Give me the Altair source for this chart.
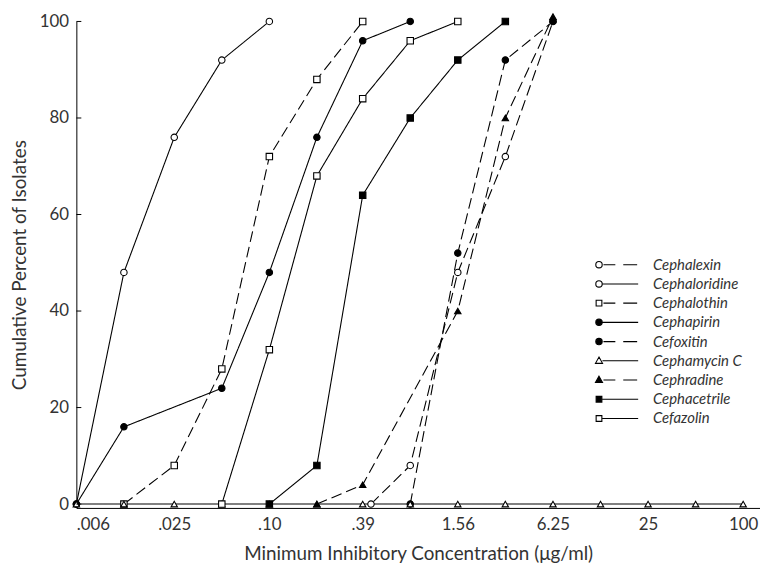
import altair as alt
import pandas as pd

# ---------------- data ----------------
series_names = ["Cephalexin", "Cephaloridine", "Cephalothin", "Cephapirin", "Cefoxitin",
                "Cephamycin C", "Cephradine", "Cephacetrile", "Cefazolin"]

cephalexin_x = [0.44, 0.78, 1.56, 3.12, 6.25]
cephalexin_y = [0, 8, 48, 72, 100]
cephaloridine_x = [0.006, 0.012, 0.025, 0.05, 0.10]
cephaloridine_y = [0, 48, 76, 92, 100]
cephalothin_x = [0.012, 0.025, 0.05, 0.10, 0.2, 0.39]
cephalothin_y = [0, 8, 28, 72, 88, 100]
cephapirin_x = [0.006, 0.012, 0.05, 0.10, 0.2, 0.39, 0.78]
cephapirin_y = [0, 16, 24, 48, 76, 96, 100]
cefoxitin_x = [0.78, 1.56, 3.12, 6.25]
cefoxitin_y = [0, 52, 92, 100]
cephamycin_x = [0.006, 0.012, 0.025, 0.05, 0.10, 0.2, 0.39, 0.78, 1.56, 3.12, 6.25, 12.5, 25, 50, 100]
cephamycin_y = [0, 0, 0, 0, 0, 0, 0, 0, 0, 0, 0, 0, 0, 0, 0]
cephradine_x = [0.2, 0.39, 1.56, 3.12, 6.25]
cephradine_y = [0, 4, 40, 80, 101]
cephacetrile_x = [0.10, 0.2, 0.39, 0.78, 1.56, 3.12]
cephacetrile_y = [0, 8, 64, 80, 92, 100]
cefazolin_x = [0.05, 0.10, 0.2, 0.39, 0.78, 1.56]
cefazolin_y = [0, 32, 68, 84, 96, 100]

x_ticks = [0.006, 0.025, 0.10, 0.39, 1.56, 6.25, 25, 100]
x_tick_labels = [".006", ".025", ".10", ".39", "1.56", "6.25", "25", "100"]
y_ticks = [0, 20, 40, 60, 80, 100]

# ---------------- styles ----------------
markers = ["circle", "circle", "square", "circle", "circle", "triangle-up", "triangle-up", "square", "square"]
fills = ["white", "white", "white", "black", "black", "white", "black", "black", "white"]
dashed = [True, False, True, False, True, False, True, False, False]

xs = [cephalexin_x, cephaloridine_x, cephalothin_x, cephapirin_x, cefoxitin_x,
      cephamycin_x, cephradine_x, cephacetrile_x, cefazolin_x]
ys = [cephalexin_y, cephaloridine_y, cephalothin_y, cephapirin_y, cefoxitin_y,
      cephamycin_y, cephradine_y, cephacetrile_y, cefazolin_y]

rows = []
for name, xv, yv in zip(series_names, xs, ys):
    for a, b in zip(xv, yv):
        rows.append({"series": name, "conc": a, "pct": b})
df = pd.DataFrame(rows)

dash_range = [[11, 5] if d else [1, 0] for d in dashed]


def legend_symbol(marker, is_dashed):
    if marker == "circle":
        m = "M-0.38,0A0.38,0.38,0,1,0,0.38,0A0.38,0.38,0,1,0,-0.38,0Z"
    elif marker == "square":
        m = "M-0.34,-0.34L0.34,-0.34L0.34,0.34L-0.34,0.34Z"
    else:
        m = "M0,-0.45L0.42,0.3L-0.42,0.3Z"
    ln = "M0.53,0L1.94,0M2.88,0L4.53,0" if is_dashed else "M0.41,0L4.65,0"
    return m + ln


legend_paths = [legend_symbol(m, d) for m, d in zip(markers, dashed)]

label_expr = " : ".join(
    f"abs(datum.value - {v}) < {v * 0.01} ? '{l}'" for v, l in zip(x_ticks, x_tick_labels)
) + " : ''"

FONT = "Lato"

x_enc = alt.X(
    "conc:Q",
    scale=alt.Scale(type="log", domain=[0.006, 127.8], nice=False),
    axis=alt.Axis(values=x_ticks, labelExpr=label_expr, ticks=False, grid=False,
                  labelPadding=9, titlePadding=12,
                  title="Minimum Inhibitory Concentration (\u03bcg/ml)"),
)
y_enc = alt.Y(
    "pct:Q",
    scale=alt.Scale(domain=[-0.8, 100], nice=False, zero=False),
    axis=alt.Axis(values=y_ticks, ticks=False, grid=False, labelPadding=8,
                  titlePadding=10, title="Cumulative Percent of Isolates"),
)

lines = alt.Chart(df).mark_line(color="black", strokeWidth=1.1).encode(
    x=x_enc,
    y=y_enc,
    detail="series:N",
    strokeDash=alt.StrokeDash("series:N", scale=alt.Scale(domain=series_names, range=dash_range),
                              legend=None),
)

points = alt.Chart(df).mark_point(stroke="black", strokeWidth=1.1, size=42, opacity=1).encode(
    x=x_enc,
    y=y_enc,
    shape=alt.Shape("series:N", scale=alt.Scale(domain=series_names, range=markers), legend=None),
    fill=alt.Fill("series:N", scale=alt.Scale(domain=series_names, range=fills), legend=None),
)

legend_props = dict(
    orient="none", legendX=518, legendY=236, title=None,
    symbolSize=289, symbolStrokeWidth=1.1, symbolFillColor="white", symbolStrokeColor="black",
    symbolOffset=0, padding=0, rowPadding=1.4,
    labelFont=FONT, labelFontStyle="italic", labelFontSize=15, labelColor="#333",
    labelOffset=45,
)

legend_layer = alt.Chart(df).transform_filter("false").mark_point(
    stroke="black", strokeWidth=1.1, opacity=1
).encode(
    shape=alt.Shape("series:N", scale=alt.Scale(domain=series_names, range=legend_paths),
                    legend=alt.Legend(**legend_props)),
    fill=alt.Fill("series:N", scale=alt.Scale(domain=series_names, range=fills),
                  legend=alt.Legend(**legend_props)),
)

tick_df = pd.DataFrame({"pct": y_ticks})
ytick_layer = alt.Chart(tick_df).mark_rule(color="black", strokeWidth=1).encode(
    y=y_enc, x=alt.value(0), x2=alt.value(5)
)

chart = alt.layer(lines, points, legend_layer, ytick_layer).resolve_scale(
    shape="independent", fill="independent"
).properties(
    width=690, height=491,
    autosize=alt.AutoSizeParams(type="none"),
    padding={"left": 69, "top": 11, "right": 0, "bottom": 55},
).configure_view(stroke=None).configure_axis(
    labelFont=FONT, titleFont=FONT, labelFontSize=17, titleFontSize=19,
    labelColor="#333", titleColor="#333", titleFontWeight="normal",
    domainColor="black", domainWidth=1,
)

chart.save("out.html", embed_options={"renderer": "svg", "actions": False})
